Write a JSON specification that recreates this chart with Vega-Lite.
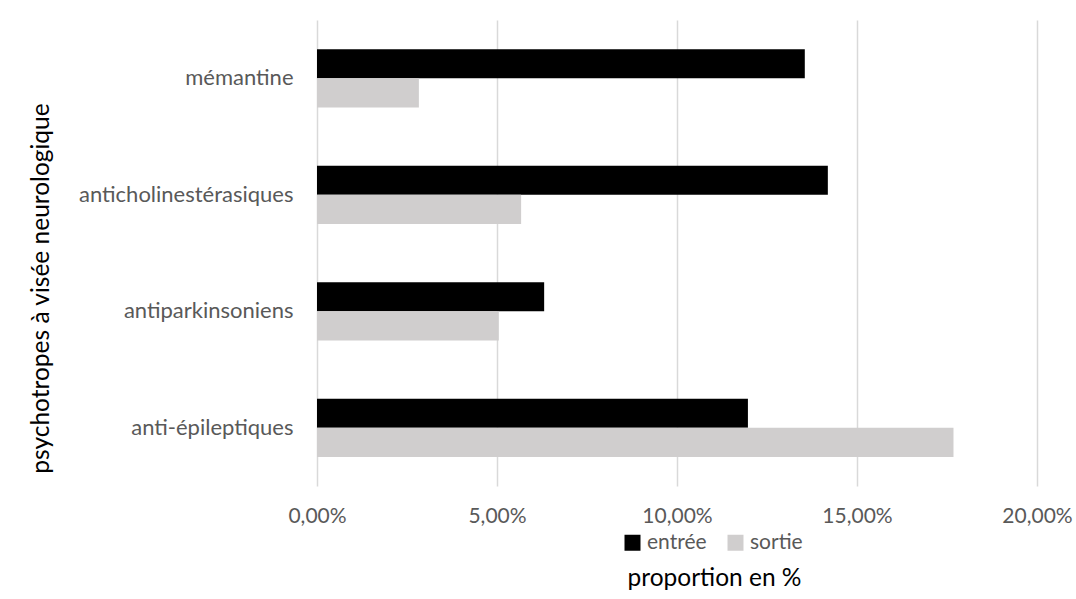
{
  "$schema": "https://vega.github.io/schema/vega-lite/v6.json",
  "width": 720,
  "height": 466,
  "autosize": {"type": "none"},
  "padding": {"left": 317, "top": 20, "right": 39, "bottom": 113},
  "background": "white",
  "config": {
    "locale": {"number": {"decimal": ",", "thousands": " ", "grouping": [3], "currency": ["", " €"]}},
    "view": {"stroke": null},
    "font": "Lato"
  },
  "data": {
    "values": [
      {"categorie": "mémantine", "periode": "entrée", "proportion": 0.1355},
      {"categorie": "mémantine", "periode": "sortie", "proportion": 0.0283},
      {"categorie": "anticholinestérasiques", "periode": "entrée", "proportion": 0.1419},
      {"categorie": "anticholinestérasiques", "periode": "sortie", "proportion": 0.0567},
      {"categorie": "antiparkinsoniens", "periode": "entrée", "proportion": 0.0631},
      {"categorie": "antiparkinsoniens", "periode": "sortie", "proportion": 0.0505},
      {"categorie": "anti-épileptiques", "periode": "entrée", "proportion": 0.1197},
      {"categorie": "anti-épileptiques", "periode": "sortie", "proportion": 0.1768}
    ]
  },
  "mark": {"type": "bar"},
  "encoding": {
    "y": {
      "field": "categorie",
      "type": "nominal",
      "sort": ["mémantine", "anticholinestérasiques", "antiparkinsoniens", "anti-épileptiques"],
      "scale": {"paddingInner": 0.5, "paddingOuter": 0.25},
      "axis": {
        "domain": false,
        "ticks": false,
        "grid": false,
        "labelPadding": 24,
        "labelFontSize": 22,
        "labelLimit": 300,
        "labelColor": "#595959",
        "title": "psychotropes à visée neurologique",
        "titleFontSize": 24.5,
        "titleFontWeight": "normal",
        "titleColor": "#000000",
        "titleX": -276,
        "titleY": 268,
        "titleAngle": -90,
        "titleAlign": "center",
        "titleBaseline": "middle"
      }
    },
    "yOffset": {"field": "periode", "type": "nominal", "sort": ["entrée", "sortie"]},
    "x": {
      "field": "proportion",
      "type": "quantitative",
      "scale": {"domain": [0, 0.2], "nice": false},
      "axis": {
        "format": ".2%",
        "values": [0, 0.05, 0.1, 0.15, 0.2],
        "domain": false,
        "ticks": false,
        "grid": true,
        "gridColor": "#D9D9D9",
        "gridWidth": 1.5,
        "labelFlush": false,
        "labelBaseline": "alphabetic",
        "labelPadding": 36,
        "labelFontSize": 21,
        "labelColor": "#595959",
        "title": "proportion en %",
        "titleFontSize": 24.5,
        "titleFontWeight": "normal",
        "titleColor": "#000000",
        "titleX": 397,
        "titleY": 99,
        "titleAlign": "center",
        "titleBaseline": "alphabetic"
      }
    },
    "color": {
      "field": "periode",
      "type": "nominal",
      "scale": {"domain": ["entrée", "sortie"], "range": ["#000000", "#D0CECE"]},
      "legend": {
        "title": null,
        "orient": "none",
        "direction": "horizontal",
        "legendX": 305,
        "legendY": 512,
        "symbolType": "square",
        "symbolSize": 256,
        "symbolStrokeWidth": 0,
        "labelFontSize": 21,
        "labelColor": "#595959",
        "columnPadding": 18,
        "labelOffset": 4
      }
    }
  }
}
